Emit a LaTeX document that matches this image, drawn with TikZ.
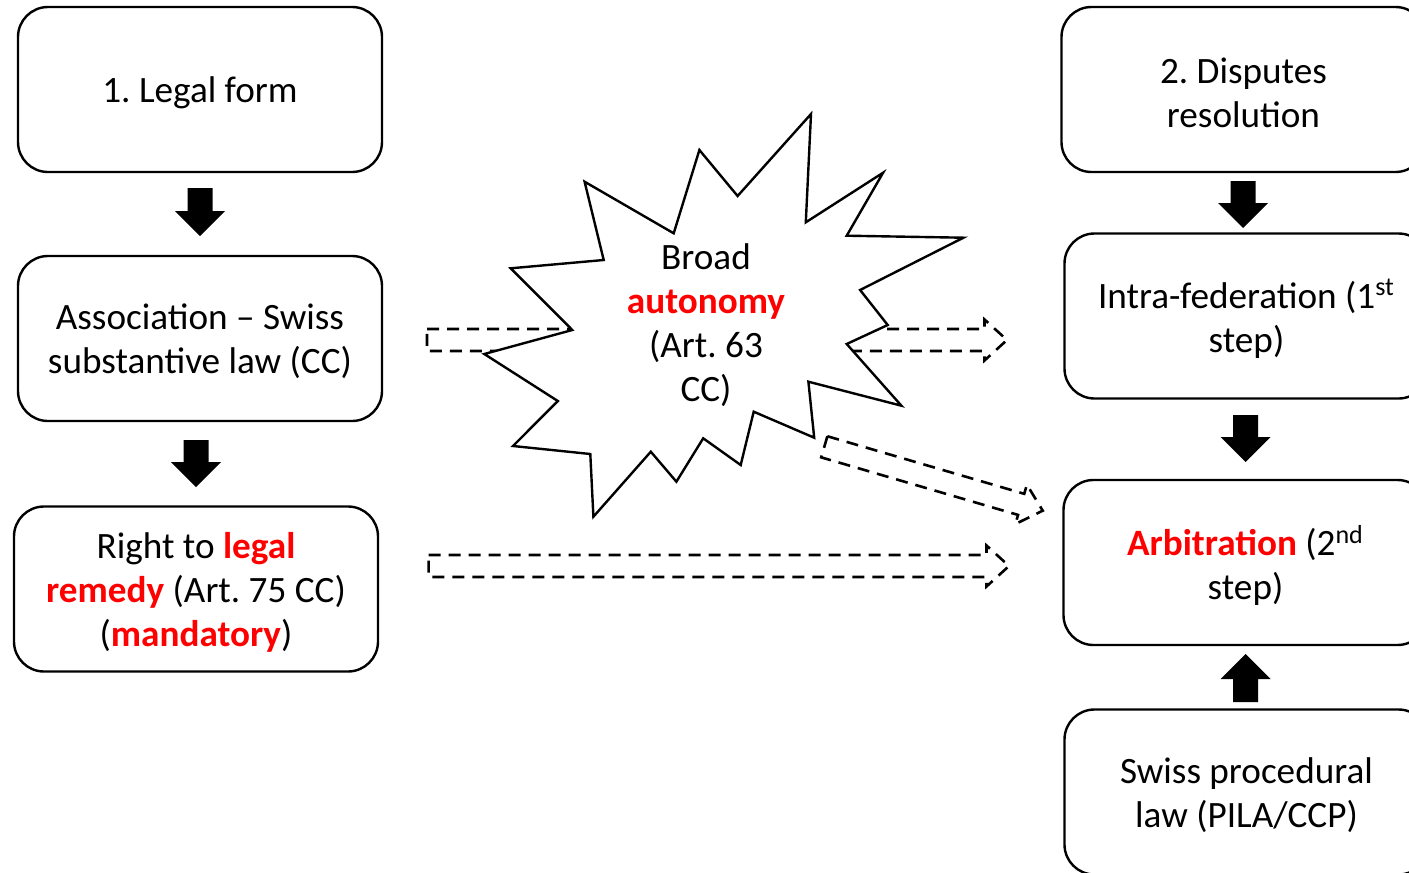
\documentclass[tikz,border=0pt]{standalone}
\usepackage{fontspec}
\setmainfont{Carlito}
\frenchspacing
\definecolor{hlred}{RGB}{255,0,0}
\newcommand\hl[1]{\textcolor{hlred}{\textbf{#1}}}
\newcommand\blockarr[4]{%
  \begin{scope}[shift={(#1,#2)},rotate=#3]
    \fill[black] (0,-12.5) -- ({#4-25},-12.5) -- ({#4-25},-25) -- (#4,0) -- ({#4-25},25) -- ({#4-25},12.5) -- (0,12.5) -- cycle;
  \end{scope}}
\newcommand\dasharr[4]{%
  \begin{scope}[shift={(#1,#2)},rotate=#3]
    \draw[dasharrowline] (0,-11) -- ({#4-22.5},-11) -- ({#4-22.5},-20.5) -- (#4,0) -- ({#4-22.5},20.5) -- ({#4-22.5},11) -- (0,11) -- cycle;
  \end{scope}}
\begin{document}
\begin{tikzpicture}[x=0.5pt,y=-0.5pt,
  box/.style={draw, line width=1.2pt, rounded corners=15pt, inner sep=0pt,
    minimum width=182pt, minimum height=82.5pt},
  txt/.style={align=center, font=\fontsize{18.6}{22}\selectfont, inner sep=0pt},
  dasharrowline/.style={line width=1.3pt, dash pattern=on 6pt off 4pt, line join=miter}]
\useasboundingbox (0,0) rectangle (1409,873);
\clip (0,0) rectangle (1409,873);

% left column
\node[box] (legal) at (200,89.5) {};
\node[box] (assoc) at (200,338.5) {};
\node[box] (remedy) at (196,589) {};
\node[txt] (legalT) at ([yshift=-1.5pt]legal.center) {1. Legal form};
\node[txt] (assocT) at ([yshift=-1.5pt]assoc.center) {Association -- Swiss\\substantive law (CC)};
\node[txt] (remedyT) at ([yshift=-1.5pt]remedy.center) {Right to \hl{legal}\\\hl{remedy} (Art. 75 CC)\\(\hl{mandatory})};

% right column
\node[box] (disputes) at (1243.5,89.5) {};
\node[box] (intra) at (1246.5,316) {};
\node[box] (arbit) at (1245.5,562.5) {};
\node[box] (swiss) at (1246.5,792) {};
\node[txt] (disputesT) at ([yshift=-1.5pt]disputes.center) {2. Disputes\\resolution};
\node[txt] (intraT) at ([yshift=-1.5pt]intra.center) {Intra-federation (1\textsuperscript{st}\\step)};
\node[txt] (arbitT) at ([yshift=-1.5pt]arbit.center) {\hl{Arbitration} (2\textsuperscript{nd}\\step)};
\node[txt] (swissT) at ([yshift=-1.5pt]swiss.center) {Swiss procedural\\law (PILA/CCP)};

% black block arrows
\blockarr{200}{188}{-90}{48}
\blockarr{196}{440}{-90}{47}
\blockarr{1243}{181}{-90}{47}
\blockarr{1245.5}{415}{-90}{47}
\blockarr{1245.5}{702}{90}{48}

% dashed block arrows
\dasharr{427}{340}{0}{580}
\dasharr{428.6}{566}{0}{580.4}
\dasharr{824.3}{446.8}{-16.3}{227.6}

% star
\draw[line width=1.2pt, fill=white, line join=miter]
  (811,114) -- (805.8,222.3) -- (883.1,172.7) -- (846.7,235.7) -- (963.4,237.7)
  -- (860.1,290) -- (887.7,325) -- (846.7,344) -- (901.4,405.7) -- (808.4,381.7)
  -- (814.2,437.7) -- (753.7,411.7) -- (740.7,465) -- (703.2,438.3) -- (676.4,481.7)
  -- (650.8,451.7) -- (593.4,516.7) -- (590.3,454) -- (513,446) -- (557.8,401)
  -- (484.3,354) -- (572.3,330) -- (510.7,268.3) -- (603.7,260) -- (584.6,181.7)
  -- (673.7,233.3) -- (699.4,150) -- (737.6,196) -- cycle;
\node[txt] (autonomy) at (706,325) {Broad\\\hl{autonomy}\\(Art. 63\\CC)};
\end{tikzpicture}
\end{document}
